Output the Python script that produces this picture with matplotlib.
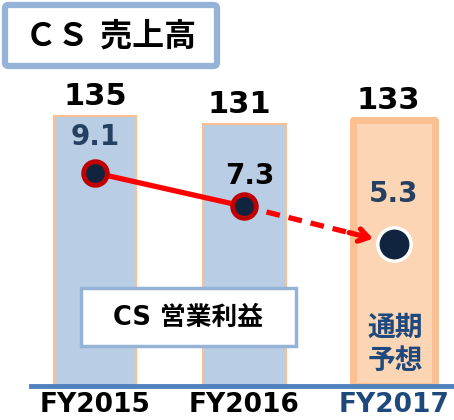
import matplotlib.pyplot as plt
from matplotlib.patches import FancyBboxPatch

# data
years = ["FY2015", "FY2016", "FY2017"]
sales = [135, 131, 133]
profit = [9.1, 7.3, 5.3]
forecast_label = "通期\n予想"
title_text = "ＣＳ 売上高"
profit_title = "CS 営業利益"

BLUE_FILL = "#B9CDE5"
PEACH_FILL = "#FCD5B5"
ORANGE_EDGE = "#FAC090"
BOX_EDGE = "#95B3D7"
AXIS_BLUE = "#4F81BD"
NAVY = "#1F497D"
DARK_NAVY = "#254061"
DOT = "#10243F"
RED = "#FF0000"
DARK_RED = "#C00000"

FONT = ["DejaVu Sans", "Noto Sans CJK JP"]
plt.rcParams["font.family"] = FONT

W, H = 454, 420


def px(x, y):
    return x / W, 1 - y / H


fig = plt.figure(figsize=(W / 100, H / 100), dpi=100)
ax = fig.add_axes([0, 34 / H, 1, (H - 34) / H])
ax2 = ax.twinx()

xs = list(range(len(years)))
ax.set_xlim(-0.635, 2.401)
ax.set_ylim(0, 193)
ax2.set_ylim(-2.3, 18.34)

# bars
bars = ax.bar(xs, sales, width=0.55, color=[BLUE_FILL, BLUE_FILL, PEACH_FILL],
              edgecolor=ORANGE_EDGE, linewidth=1.5, zorder=1)
bars[2].set_linewidth(5)
bars[2].set_joinstyle("round")

sales_dx = [0, -4, -4]
for x, v, dx in zip(xs, sales, sales_dx):
    ax.annotate(str(v), (x, v), xytext=(dx, 8), textcoords="offset points",
                ha="center", va="baseline", fontsize=22, fontweight="bold",
                color="black")

# axis styling
for s in ["top", "left", "right"]:
    ax.spines[s].set_visible(False)
    ax2.spines[s].set_visible(False)
ax2.spines["bottom"].set_visible(False)
ax.spines["bottom"].set_color(AXIS_BLUE)
ax.spines["bottom"].set_linewidth(3.5)
ax.spines["bottom"].set_bounds(-0.43, 2.401)
ax.spines["bottom"].set_zorder(3)
ax.set_yticks([])
ax2.set_yticks([])
ax.set_xticks(xs, years, fontsize=19, fontweight="bold")
ax.tick_params(axis="x", length=0, pad=4)
ax.get_xticklabels()[2].set_color(NAVY)

# profit line
ax2.plot(xs[:2], profit[:2], color=RED, lw=3.8, solid_capstyle="butt", zorder=2)
t_dash, t_head0, t_head1 = 0.72, 0.70, 0.86
x2, y2 = xs[1], profit[1]
x3, y3 = xs[2], profit[2]
ax2.plot([x2, x2 + t_dash * (x3 - x2)], [y2, y2 + t_dash * (y3 - y2)],
         color=RED, lw=3.8, linestyle=(0, (2.6, 1.7)), zorder=2)
ax2.annotate("", xy=(x2 + t_head1 * (x3 - x2), y2 + t_head1 * (y3 - y2)),
             xytext=(x2 + t_head0 * (x3 - x2), y2 + t_head0 * (y3 - y2)),
             arrowprops=dict(arrowstyle="->,head_length=0.7,head_width=0.45",
                             color=RED, lw=3.8, shrinkA=0, shrinkB=0))
ax2.plot(xs[:2], profit[:2], linestyle="none", marker="o", markersize=17,
         markerfacecolor=DOT, markeredgecolor=DARK_RED, markeredgewidth=3.5,
         zorder=4)
ax2.plot(xs[2:], profit[2:], linestyle="none", marker="o", markersize=24,
         markerfacecolor=DOT, markeredgecolor="white", markeredgewidth=2.5,
         zorder=4)

profit_offsets = [(0, 20), (4, 16), (0, 30)]
profit_colors = [DARK_NAVY, "black", DARK_NAVY]
for x, v, off, c in zip(xs, profit, profit_offsets, profit_colors):
    ax2.annotate(f"{v:.1f}", (x, v), xytext=off, textcoords="offset points",
                 ha="center", va="baseline", fontsize=20, fontweight="bold",
                 color=c)

# title box
x0, y0 = px(5, 66)
x1, y1 = px(217, 5)
fig.patches.append(FancyBboxPatch((x0, y0), x1 - x0, y1 - y0,
                                  boxstyle="round,pad=0,rounding_size=0.008",
                                  transform=fig.transFigure, facecolor="white",
                                  edgecolor=BOX_EDGE, linewidth=4.5, zorder=5))
fig.text(*px(111, 37), title_text, ha="center", va="center", fontsize=23,
         fontweight="bold", zorder=6)

# profit legend box
x0, y0 = px(81, 346)
x1, y1 = px(296, 288)
fig.patches.append(FancyBboxPatch((x0, y0), x1 - x0, y1 - y0,
                                  boxstyle="square,pad=0",
                                  transform=fig.transFigure, facecolor="white",
                                  edgecolor=BOX_EDGE, linewidth=2.5, zorder=5))
fig.text(*px(188, 318), profit_title, ha="center", va="center", fontsize=18.5,
         fontweight="bold", zorder=6)

fig.text(*px(395, 344), forecast_label, ha="center", va="center", fontsize=20,
         fontweight="bold", color=NAVY, linespacing=1.25, zorder=6)

fig.savefig("out.png", dpi=100)
